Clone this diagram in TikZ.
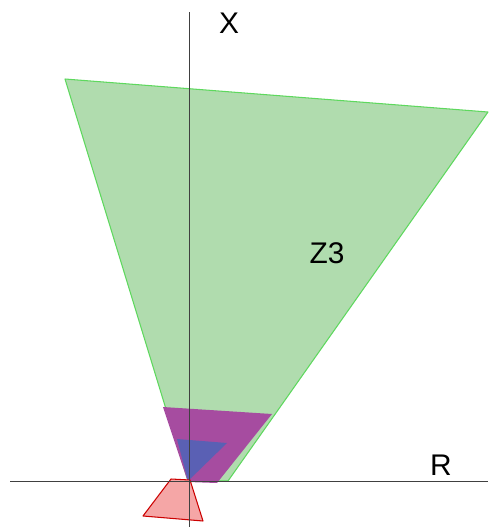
\documentclass[tikz,border=0pt]{standalone}
\usepackage{fontspec}
\setmainfont{Liberation Sans}
\usepackage{xcolor}
\usetikzlibrary{positioning}

\definecolor{zonegreen}{HTML}{B0DCAE}
\definecolor{edgegreen}{HTML}{5ED85E}
\definecolor{zonepurple}{HTML}{A64CA0}
\definecolor{zoneblue}{HTML}{5A60B4}
\definecolor{zonered}{HTML}{F5A6A6}

\begin{document}
\begin{tikzpicture}[
    x=0.2mm, y=-0.2mm,
    axis/.style={draw=black!75, line width=0.5pt},
    zone/.style={line width=0.6pt, line join=round},
    lbl/.style={font=\fontsize{17}{17}\selectfont, inner sep=0pt}
]
\useasboundingbox (0,0) rectangle (488,527);

% Zones
\draw[zone, fill=zonegreen, draw=edgegreen] (65,79) -- (488,112) -- (228,481) -- (188,481) -- cycle;
\fill[zonepurple] (163,407) -- (272,414) -- (217,483) -- (188,482) -- cycle;
\fill[zoneblue] (177,439) -- (227,443) -- (188,481) -- cycle;
\draw[zone, fill=zonered, draw=red!80!black] (171,479) -- (190,480) -- (203,521) -- (143,516) -- cycle;

% Axes
\draw[axis] (189,12) -- (189,527);
\draw[axis] (10,481) -- (488,481);

% Labels
\node[lbl] (xlbl) at (229,23) {X};
\node[lbl] (rlbl) at (441,465) {R};
\node[lbl] (zlbl) at (327,253) {Z3};

\end{tikzpicture}
\end{document}
